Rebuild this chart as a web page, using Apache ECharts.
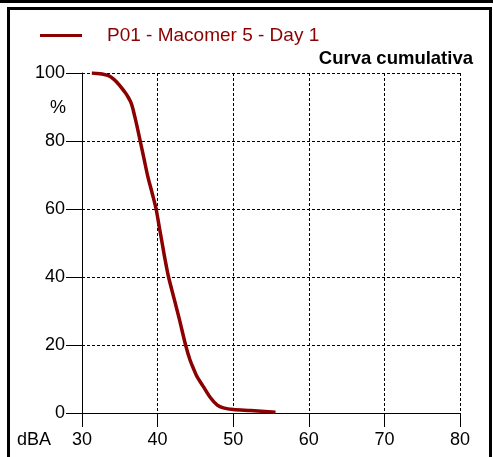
<!DOCTYPE html>
<html><head><meta charset="utf-8">
<script src="https://cdn.jsdelivr.net/npm/echarts@6/dist/echarts.min.js"></script>
<style>html,body{margin:0;padding:0;background:#fff}#c{width:493px;height:457px}</style>
</head><body><div id="c"></div>
<script>
const seriesName = 'P01 - Macomer 5 - Day 1';
const titleText = 'Curva cumulativa';
const levelsDBA = [31.3, 33.5, 35.0, 36.4, 37.0, 37.7, 38.2, 38.7, 39.3, 39.8, 40.2, 40.6, 41.0, 41.45, 42.2, 42.9, 43.7, 44.3, 44.8, 45.2, 46.1, 47.0, 47.9, 48.7, 50.0, 52.3, 55.6];
const cumulativePct = [100, 99.2, 96.3, 91.7, 87.0, 80, 74.8, 69.6, 64.5, 60, 55, 50, 45, 40, 33.5, 27.4, 20, 15.5, 12.8, 10.8, 7.6, 4.5, 2.3, 1.5, 1.0, 0.7, 0.2];
const xTicks = [30, 40, 50, 60, 70, 80];
const yTicks = [0, 20, 40, 60, 80, 100];

const font = 'Liberation Sans, Arial, sans-serif';
const chart = echarts.init(document.getElementById('c'), null, {renderer: 'canvas'});
chart.setOption({
  animation: false,
  backgroundColor: '#fff',
  title: {
    text: titleText, right: 15, top: 44,
    textStyle: {fontFamily: font, fontSize: 18.5, fontWeight: 'bold', color: '#000'}
  },
  legend: {
    left: 35, top: 21, itemWidth: 42, itemHeight: 3, icon: 'rect',
    data: [seriesName],
    textStyle: {fontFamily: font, fontSize: 19, color: '#8B0000', padding: [0, 0, 0, 20]}
  },
  grid: {left: 82, right: 33, top: 73, bottom: 44, containLabel: false},
  xAxis: {
    type: 'value', min: xTicks[0], max: xTicks[xTicks.length - 1], interval: 10,
    axisLine: {show: true, onZero: false, lineStyle: {color: '#000', width: 1}},
    axisTick: {show: true, length: 14, lineStyle: {color: '#000'}},
    axisLabel: {margin: 18, fontFamily: font, fontSize: 18, color: '#000'},
    splitLine: {show: true, lineStyle: {color: '#000', type: [3, 2], width: 1}}
  },
  yAxis: {
    type: 'value', min: yTicks[0], max: yTicks[yTicks.length - 1], interval: 20,
    axisLine: {show: true, lineStyle: {color: '#000', width: 1}},
    axisTick: {show: true, length: 16, lineStyle: {color: '#000'}},
    axisLabel: {margin: 17, fontFamily: font, fontSize: 18, color: '#000'},
    splitLine: {show: true, lineStyle: {color: '#000', type: [3, 2], width: 1}}
  },
  graphic: [
    {type: 'rect', shape: {x: 8.5, y: 8.5, width: 482, height: 470}, style: {fill: null, stroke: '#000', lineWidth: 3}, silent: true},
    {type: 'line', shape: {x1: 0, y1: 1.5, x2: 493, y2: 1.5}, style: {stroke: '#000', lineWidth: 3}, silent: true},
    {type: 'text', left: 50, top: 99, style: {text: '%', font: '18px ' + font, fill: '#000'}},
    {type: 'text', left: 17, top: 431, style: {text: 'dBA', font: '18px ' + font, fill: '#000'}}
  ],
  series: [{
    name: seriesName, type: 'line', showSymbol: false, symbol: 'none',
    smooth: 0.3,
    data: levelsDBA.map((x, i) => [x, cumulativePct[i]]),
    lineStyle: {color: '#8B0000', width: 3.5},
    itemStyle: {color: '#8B0000'}
  }]
});
</script></body></html>
